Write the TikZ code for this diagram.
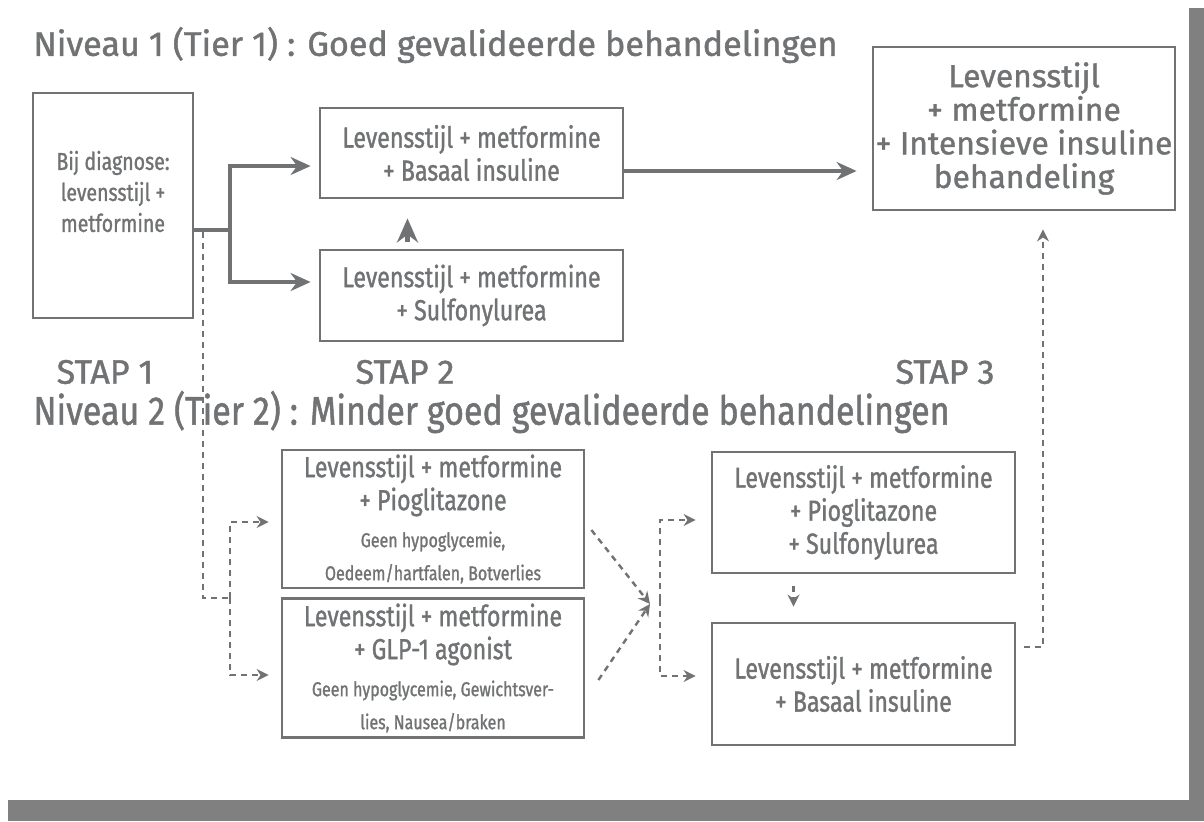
\documentclass[tikz,border=0pt]{standalone}
\usepackage{fontspec}
\setmainfont{Fira Sans}[FakeBold=1.2]
\newfontfamily\narrowfont{Fira Sans}[FakeBold=1.2, FakeStretch=0.8]
\newfontfamily\headfont{Fira Sans}[FakeBold=1.2, FakeStretch=0.85]
\usetikzlibrary{arrows.meta}
\definecolor{ink}{RGB}{112,114,116}
\definecolor{shadowgray}{RGB}{128,128,128}
\newcommand\notesize{\fontsize{10}{12}\selectfont}

\begin{document}
\begin{tikzpicture}[x=0.5pt, y=-0.5pt, every node/.style={text=ink, inner sep=0pt},
  box/.style={draw=ink, line width=1.4pt, align=center, font=\narrowfont\fontsize{14.5}{16.5}\selectfont},
  boxtext/.style={align=center, font=\narrowfont\fontsize{12.2}{15.5}\selectfont},
  widebox/.style={draw=ink, line width=1.4pt, align=center, font=\fontsize{15.9}{16.8}\selectfont},
  heading/.style={anchor=west, font=\fontsize{17.1}{18}\selectfont},
  narrowheading/.style={anchor=west, font=\headfont\fontsize{20}{20}\selectfont},
  steplabel/.style={font=\fontsize{17}{18}\selectfont},
  flow/.style={draw=ink, line width=2.2pt, -{Stealth[length=10pt,width=9pt]}},
  dashline/.style={draw=ink, line width=1.2pt, dash pattern=on 3pt off 2.5pt},
  dashflow/.style={dashline, -{Stealth[length=6pt,width=6pt]}}]

\useasboundingbox (0,0) rectangle (1204,821);
\fill[shadowgray] (8,800) rectangle (1204,821);
\fill[shadowgray] (1189,8) rectangle (1204,821);

\node[heading] (title1) at (33,45) {Niveau 1 (Tier 1) : Goed gevalideerde behandelingen};

\node[box, minimum width=80pt, minimum height=112.5pt] (diag) at (113,205.5) {};
\node[boxtext] (diagtext) at ([yshift=7pt]diag.center) {Bij diagnose:\\levensstijl +\\metformine};
\node[box, minimum width=151.5pt, minimum height=45pt] (basal1) at (471.5,153) {Levensstijl + metformine\\+ Basaal insuline};
\node[box, minimum width=151.5pt, minimum height=45.5pt] (sulfo1) at (471.5,295.5) {Levensstijl + metformine\\+ Sulfonylurea};
\node[widebox, minimum width=151pt, minimum height=81.5pt] (intens) at (1024,128.5) {Levensstijl\\+ metformine\\+ Intensieve insuline\\behandeling};

\node[steplabel] (stap1) at (105,372) {STAP 1};
\node[steplabel] (stap2) at (405,372) {STAP 2};
\node[steplabel] (stap3) at (945,372) {STAP 3};

\node[narrowheading] (title2) at (33,412) {Niveau 2 (Tier 2) : Minder goed gevalideerde behandelingen};

\node[box, minimum width=151pt, minimum height=69pt] (pio) at (433,519) {Levensstijl + metformine\\+ Pioglitazone\\[2pt]\notesize Geen hypoglycemie,\\\notesize Oedeem/hartfalen, Botverlies};
\node[box, minimum width=151pt, minimum height=69.5pt] (glp) at (433,668) {Levensstijl + metformine\\+ GLP-1 agonist\\[2pt]\notesize Geen hypoglycemie, Gewichtsver-\\\notesize lies, Nausea/braken};
\node[box, minimum width=151.5pt, minimum height=60.5pt] (piosu) at (863.5,512.5) {Levensstijl + metformine\\+ Pioglitazone\\+ Sulfonylurea};
\node[box, minimum width=151.5pt, minimum height=61pt] (basal2) at (863.5,684) {Levensstijl + metformine\\+ Basaal insuline};

\coordinate (split) at (230,230);
\draw[flow, -] ([yshift=-12.25pt]diag.east) -- (split);
\draw[flow, shorten >=4pt] (split) |- ([yshift=-6.5pt]basal1.west);
\draw[flow, shorten >=4pt] (split) |- ([yshift=6.75pt]sulfo1.west);
\draw[flow, -{Stealth[length=12pt,width=10.5pt]}] ([xshift=-32pt, yshift=3.5pt]sulfo1.north) -- ([xshift=-32pt, yshift=-9.5pt]basal1.south);
\draw[flow, shorten >=7.5pt] ([yshift=-9pt]basal1.east) -- ([yshift=-9pt]basal1.east -| intens.west);

\coordinate (tap) at (203,232);
\coordinate (knee) at (230,598);
\draw[dashline] (tap) |- (knee);
\draw[dashflow, shorten >=6pt] (knee) |- ([yshift=-1.5pt]pio.west);
\draw[dashflow, shorten >=6pt] (knee) |- ([yshift=-3.5pt]glp.west);

\coordinate (meet) at (650,604);
\draw[dashflow] ([xshift=3pt, yshift=-5.5pt]pio.east) -- (meet);
\draw[dashflow] ([xshift=6.5pt, yshift=-6pt]glp.east) -- (meet);

\coordinate (fork) at (660,600);
\draw[dashflow, shorten >=7.5pt] (fork) |- ([yshift=-3.75pt]piosu.west);
\draw[dashflow, shorten >=7.5pt] (fork) |- ([yshift=4pt]basal2.west);
\draw[dashflow] ([xshift=-35pt, yshift=-6pt]piosu.south) -- ([xshift=-35pt, yshift=7.5pt]basal2.north);

\draw[dashflow, shorten >=9pt] ([xshift=4pt, yshift=18.5pt]basal2.east) -| ([xshift=9.5pt]intens.south);
\end{tikzpicture}
\end{document}
